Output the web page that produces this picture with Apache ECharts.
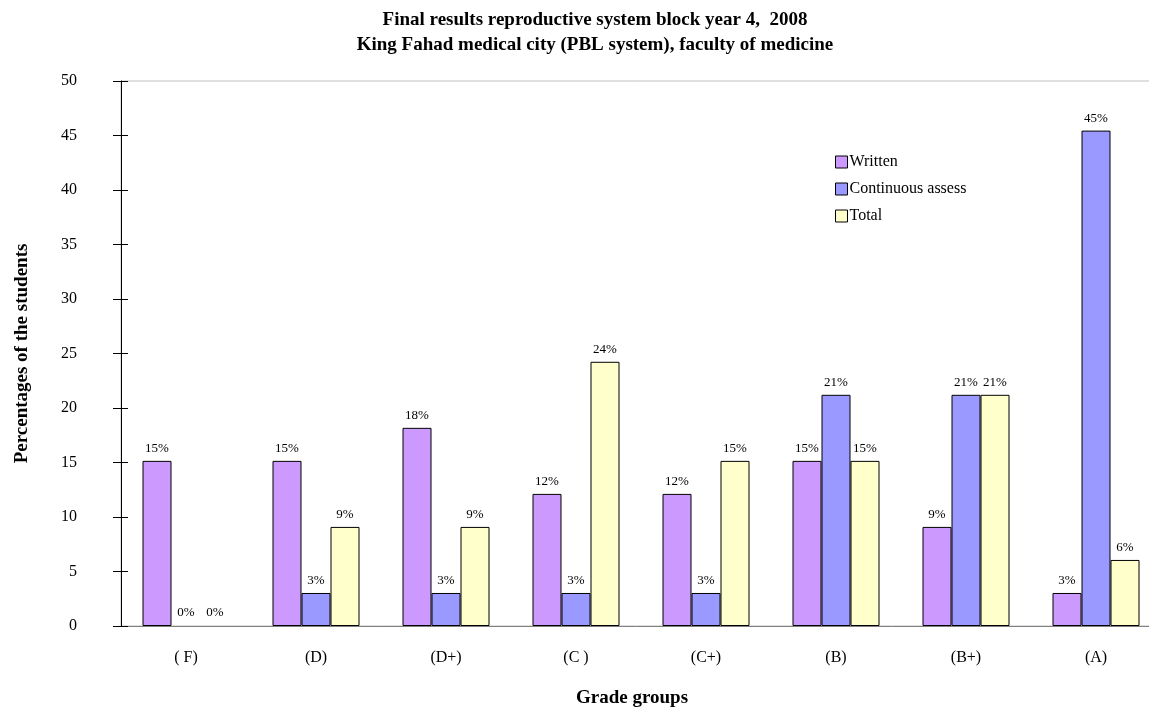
<!DOCTYPE html>
<html>
<head>
<meta charset="utf-8">
<script src="https://cdn.jsdelivr.net/npm/echarts@6/dist/echarts.min.js"></script>
<style>html,body{margin:0;padding:0;background:#fff}#c{width:1149px;height:707px}</style>
</head>
<body>
<div id="c"></div>
<script>
var categories = ['( F)', '(D)', '(D+)', '(C )', '(C+)', '(B)', '(B+)', '(A)'];
var written = [15.15, 15.15, 18.18, 12.12, 12.12, 15.15, 9.09, 3.03];
var continuous = [0, 3.03, 3.03, 3.03, 3.03, 21.21, 21.21, 45.45];
var total = [0, 9.09, 9.09, 24.24, 15.15, 15.15, 21.21, 6.06];
var seriesNames = ['Written', 'Continuous assess', 'Total'];
var titleLines = ['Final results reproductive system block year 4,  2008', 'King Fahad medical city (PBL system), faculty of medicine'];

var FONT = '"Liberation Serif", "Times New Roman", serif';
var chart = echarts.init(document.getElementById('c'), null, {renderer: 'canvas'});
function lbl() {
  return {show: true, position: 'top', distance: 6, fontFamily: FONT, fontSize: 13, color: '#000',
    formatter: function (p) { return Math.round(p.value) + '%'; }};
}
function bar(name, data, color) {
  return {name: name, type: 'bar', barWidth: 29, barGap: '0%',
    data: data.map(function (v) {
      return v === 0 ? {value: v, itemStyle: {borderColor: 'rgba(0,0,0,0)'}} : v;
    }),
    itemStyle: {color: color, borderColor: '#000', borderWidth: 1},
    label: lbl()};
}
chart.setOption({
  animation: false,
  backgroundColor: '#fff',
  title: {text: titleLines.join('\n'), left: 590, top: 3, textAlign: 'center',
    textStyle: {fontFamily: FONT, fontWeight: 'bold', fontSize: 19, lineHeight: 25, color: '#000'}},
  legend: {orient: 'vertical', left: 830, top: 149, itemWidth: 12, itemHeight: 12, itemGap: 11,
    icon: 'rect', data: seriesNames,
    textStyle: {fontFamily: FONT, fontSize: 16, color: '#000', padding: [0, 0, 0, -3]},
    itemStyle: {borderColor: '#000', borderWidth: 1}},
  grid: {left: 121, top: 81, width: 1040, height: 545, containLabel: false, outerBoundsMode: 'none',
    show: true, borderColor: '#c0c0c0', borderWidth: 1, backgroundColor: 'transparent'},
  xAxis: {type: 'category', data: categories, name: 'Grade groups', nameLocation: 'middle', nameGap: 63,
    nameTextStyle: {fontFamily: FONT, fontWeight: 'bold', fontSize: 19, color: '#000', padding: [0, 18, 0, 0]},
    axisLine: {lineStyle: {color: '#808080', width: 1}}, axisTick: {show: false},
    axisLabel: {fontFamily: FONT, fontSize: 16, color: '#000', margin: 24}},
  yAxis: [{type: 'value', min: 0, max: 50, interval: 5, name: 'Percentages of the students', nameLocation: 'middle', nameGap: 89,
    nameTextStyle: {fontFamily: FONT, fontWeight: 'bold', fontSize: 19, color: '#000'},
    axisLine: {show: true, lineStyle: {color: '#000', width: 1}},
    axisTick: {show: true, length: 8, lineStyle: {color: '#000'}},
    splitLine: {show: false},
    axisLabel: {fontFamily: FONT, fontSize: 16, color: '#000', margin: 44}},
   {type: 'value', min: 0, max: 50, interval: 5, position: 'left', offset: 0,
    axisLine: {show: false}, axisTick: {show: true, inside: true, length: 7, lineStyle: {color: '#000'}},
    axisLabel: {show: false}, splitLine: {show: false}}],
  series: [bar(seriesNames[0], written, '#CC99FF'), bar(seriesNames[1], continuous, '#9999FF'), bar(seriesNames[2], total, '#FFFFCC')]
});
</script>
</body>
</html>
